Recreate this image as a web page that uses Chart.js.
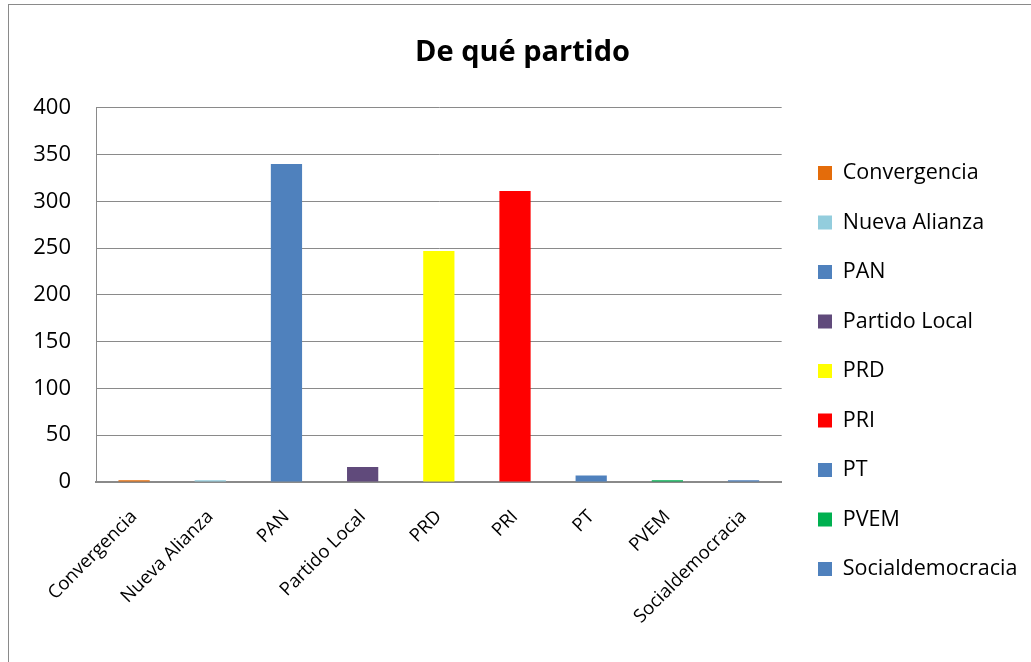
<!DOCTYPE html>
<html>
<head>
<meta charset="utf-8">
<script src="https://cdn.jsdelivr.net/npm/chart.js@4"></script>
<style>
  body { margin: 0; background: #fff; }
  #wrap { position: relative; width: 1031px; height: 662px; overflow: hidden; }
  #frame { position: absolute; left: 8px; top: 4px; width: 1100px; height: 700px;
           border-left: 1.5px solid #8a8a8a; border-top: 1.5px solid #8a8a8a; }
  #grafico { position: absolute; left: 0; top: 0; }
</style>
</head>
<body>
<div id="wrap">
  <div id="frame"></div>
  <canvas id="grafico" width="1031" height="662"></canvas>
</div>
<script>
const partidos = ["Convergencia", "Nueva Alianza", "PAN", "Partido Local", "PRD", "PRI", "PT", "PVEM", "Socialdemocracia"];
const votos = [2, 2, 340, 16, 247, 311, 7, 2, 2];
const colores = ["#E46C0A", "#93CDDD", "#4F81BD", "#604A7B", "#FFFF00", "#FF0000", "#4F81BD", "#00B050", "#4F81BD"];
const ticks_y = [0, 50, 100, 150, 200, 250, 300, 350, 400];

const fuente = "'Open Sans', sans-serif";
const grafico = document.getElementById("grafico");

// mueve la leyenda y el titulo a su sitio
const ajuste = {
  id: "ajuste",
  afterLayout(chart) {
    const lg = chart.legend;
    const dx = 790 - lg.left;
    lg.left += dx;
    lg.right += dx;
    lg.top += 40;
    lg.bottom += 40;
    const t = chart.titleBlock;
    t.left += 13;
    t.right += 13;
  },
};

new Chart(grafico, {
  type: "bar",
  data: {
    labels: partidos,
    datasets: [
      {
        label: "De qué partido",
        data: votos,
        backgroundColor: colores,
        borderWidth: 0,
        barPercentage: 0.41,
        categoryPercentage: 1,
      },
    ],
  },
  plugins: [ajuste],
  options: {
    responsive: false,
    animation: false,
    layout: {
      padding: { left: 0, right: 12, top: 0, bottom: 0 },
    },
    scales: {
      x: {
        grid: { display: false },
        border: { color: "#8a8a8a", width: 2 },
        ticks: {
          color: "#000",
          font: { family: fuente, size: 18.5 },
          maxRotation: 45,
          minRotation: 45,
          autoSkip: false,
          padding: 16,
        },
        afterFit: (scale) => { scale.height = 180; },
      },
      y: {
        min: 0,
        max: 400,
        afterBuildTicks: (scale) => { scale.ticks = ticks_y.map((v) => ({ value: v })); },
        grid: { color: "#8a8a8a", lineWidth: 1, drawTicks: false },
        border: { color: "#8a8a8a", width: 1 },
        ticks: {
          color: "#000",
          font: { family: fuente, size: 22 },
          padding: 25,
        },
        afterFit: (scale) => { scale.width = 96; },
      },
    },
    plugins: {
      title: {
        display: true,
        text: "De qué partido",
        color: "#000",
        font: { family: fuente, size: 29, weight: "bold" },
        padding: { top: 35, bottom: 38 },
      },
      legend: {
        position: "right",
        labels: {
          color: "#000",
          font: { family: fuente, size: 21.5 },
          boxWidth: 14,
          boxHeight: 14,
          padding: 28,
          generateLabels: (chart) =>
            partidos.map((p, i) => ({
              text: p,
              fillStyle: colores[i],
              strokeStyle: colores[i],
              lineWidth: 0,
              index: i,
              datasetIndex: 0,
            })),
        },
      },
      tooltip: { enabled: false },
    },
  },
});
</script>
</body>
</html>
